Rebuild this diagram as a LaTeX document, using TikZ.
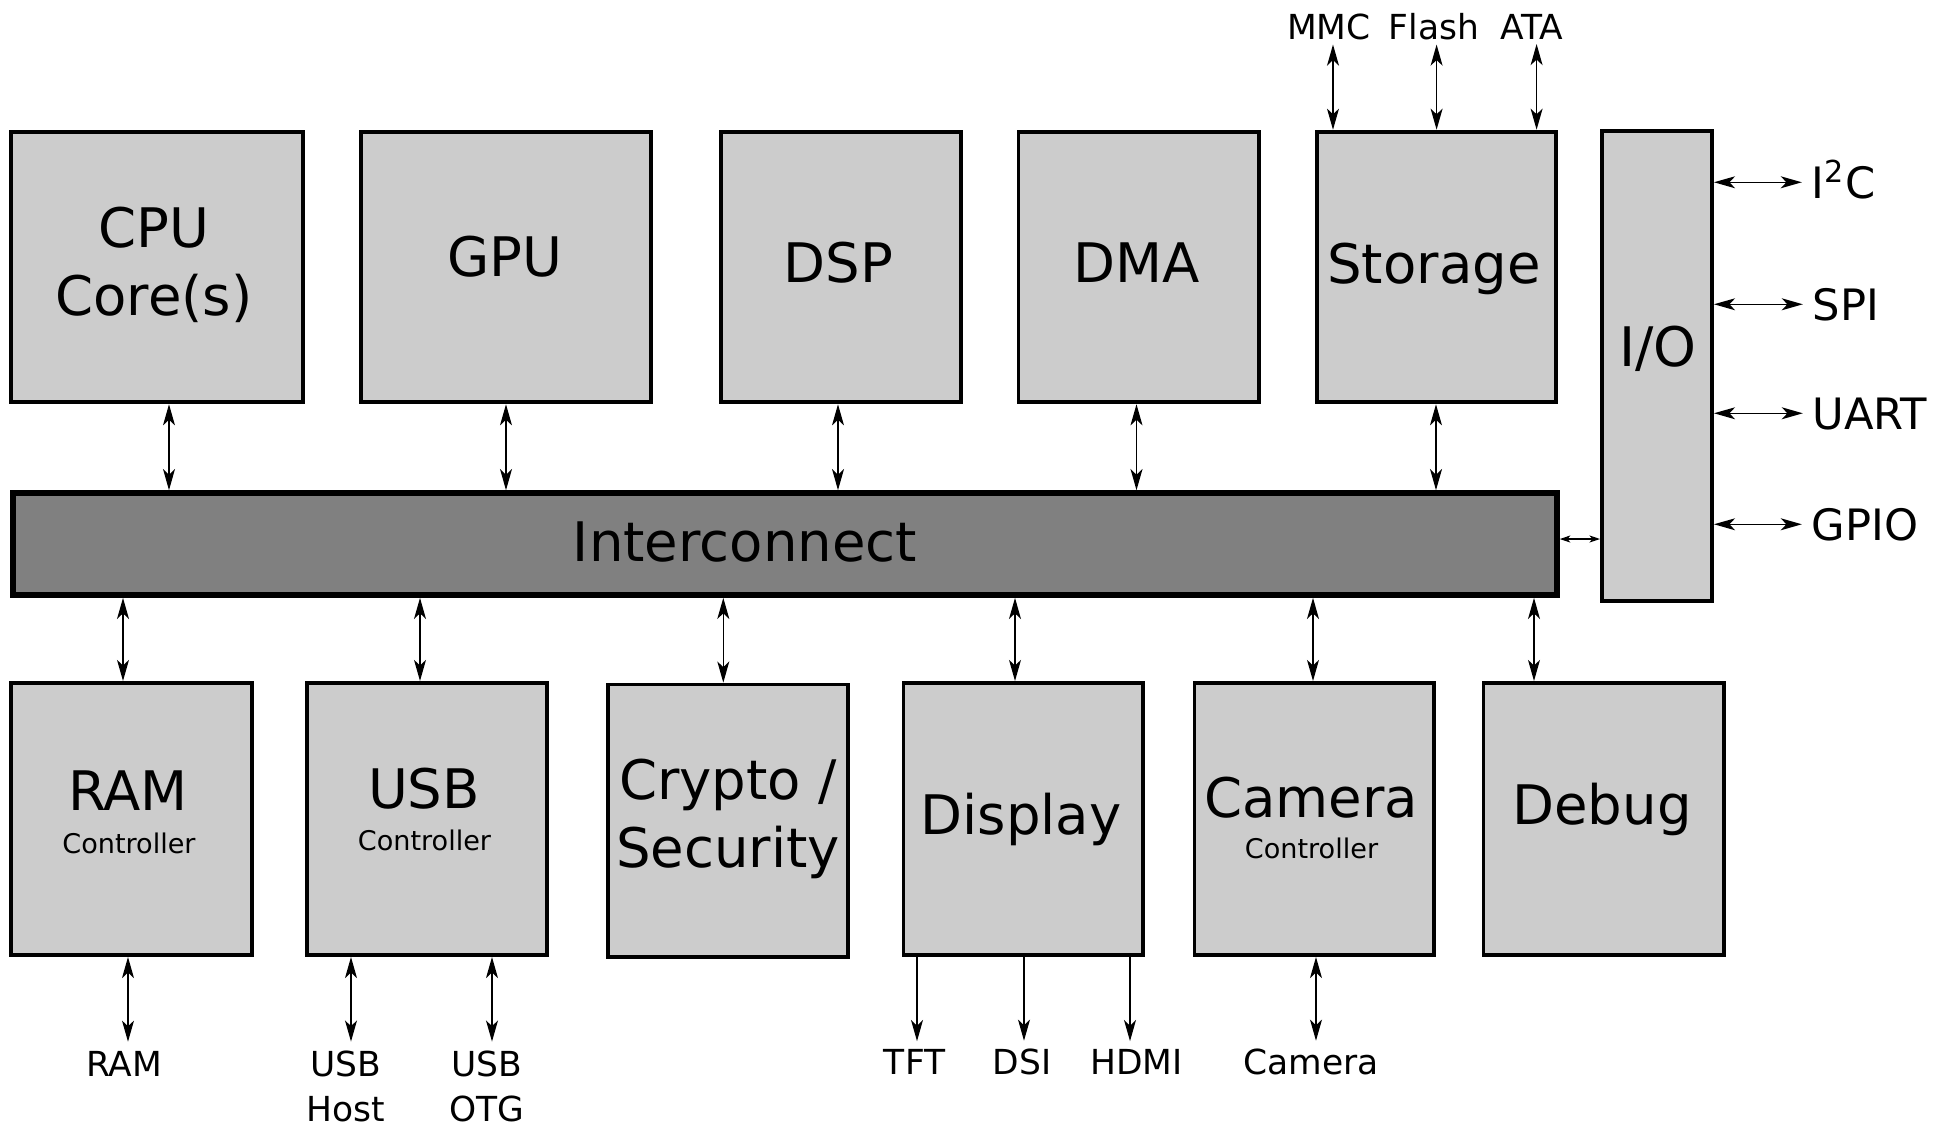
\documentclass[tikz,border=0pt]{standalone}
\usepackage{fontspec}
\setmainfont{DejaVu Sans}
\usetikzlibrary{arrows.meta}

\definecolor{blockfill}{HTML}{CCCCCC}
\definecolor{busfill}{HTML}{808080}

\tikzset{
  block/.style={draw, fill=blockfill, line width=1.1pt, inner sep=0pt},
  core/.style={block, minimum width=#1, minimum height=2.705cm},
  periph/.style={block, minimum width=#1, minimum height=2.72cm},
  bus/.style={draw, fill=busfill, line width=1.6pt, inner sep=0pt},
  title/.style={font=\fontsize{15.5}{19.35}\selectfont, inner sep=0pt, align=center},
  ctrl/.style={font=\fontsize{7.7}{9}\selectfont, inner sep=0pt, anchor=base},
  sig/.style={font=\fontsize{9.8}{12.8}\selectfont, inner sep=0pt, align=center},
  pin/.style={font=\fontsize{12.3}{14}\selectfont, inner sep=0pt, text height=8.95pt, text depth=0pt, anchor=base west},
  link/.style={line width=0.4pt, {Stealth[length=6pt, width=3.4pt, inset=1.6pt]}-{Stealth[length=6pt, width=3.4pt, inset=1.6pt]}},
  feed/.style={line width=0.4pt, -{Stealth[length=6pt, width=3.4pt, inset=1.6pt]}},
  shortlink/.style={line width=0.4pt, {Stealth[length=3pt, width=2pt, inset=0.8pt]}-{Stealth[length=3pt, width=2pt, inset=0.8pt]}}
}

\begin{document}
\begin{tikzpicture}[x=0.01cm, y=-0.01cm]
\useasboundingbox (0,0) rectangle (1950,1126);

\node[core=2.91cm] (cpu) at (157,267) {};
\node[core=2.90cm] (gpu) at (506,267) {};
\node[core=2.40cm] (dsp) at (841,267) {};
\node[core=2.40cm] (dma) at (1138.5,267) {};
\node[core=2.39cm] (storage) at (1436.5,267) {};
\node[block, minimum width=1.10cm, minimum height=4.70cm] (io) at (1657,366) {};
\node[bus, minimum width=15.43cm, minimum height=1.02cm] (ic) at (785,544) {};

\node[periph=2.41cm] (ram) at (131.3,819) {};
\node[periph=2.40cm] (usb) at (427,819) {};
\node[periph=2.40cm] (crypto) at (728,820.6) {};
\node[periph=2.39cm] (display) at (1023,819) {};
\node[periph=2.39cm] (camera) at (1314,819) {};
\node[periph=2.40cm] (debug) at (1603.5,819) {};

\node[title, anchor=north] (cputxt) at (154,206) {CPU\\Core(s)};
\node[title, anchor=base] (gputxt) at (505,276) {GPU};
\node[title, anchor=base] (dsptxt) at (838.6,282) {DSP};
\node[title, anchor=base] (dmatxt) at (1137,282) {DMA};
\node[title, anchor=base] (storagetxt) at (1434,283) {Storage};
\node[title, anchor=base] (iotxt) at (1658,366) {I/O};
\node[title, anchor=base] (ictxt) at (745,561) {Interconnect};
\node[title, anchor=base] (ramtxt) at (128,810.5) {RAM};
\node[ctrl] (ramctrl) at (129,853) {Controller};
\node[title, anchor=base] (usbtxt) at (424,808) {USB};
\node[ctrl] (usbctrl) at (424.5,850) {Controller};
\node[title, anchor=north] (cryptotxt) at (728,758) {Crypto /\\Security};
\node[title, anchor=base] (displaytxt) at (1021,834) {Display};
\node[title, anchor=base] (cameratxt) at (1311,817) {Camera};
\node[ctrl] (cameractrl) at (1311.5,858.5) {Controller};
\node[title, anchor=base] (debugtxt) at (1602,824) {Debug};

\node[sig, anchor=base] (mmc) at (1329,39.5) {MMC};
\node[sig, anchor=base] (flash) at (1434,39.5) {Flash};
\node[sig, anchor=base] (ata) at (1532,39.5) {ATA};

\node[pin] (i2c) at (1811,198) {I\textsuperscript{2}C};
\node[pin] (spi) at (1812,320) {SPI};
\node[pin] (uart) at (1812,429) {UART};
\node[pin] (gpio) at (1811,540) {GPIO};

\node[sig, anchor=base] (ramsig) at (124,1076) {RAM};
\node[sig, anchor=north] (hostsig) at (346,1050) {USB\\Host};
\node[sig, anchor=north] (otgsig) at (487,1050) {USB\\OTG};
\node[sig, anchor=base] (tft) at (914.6,1074) {TFT};
\node[sig, anchor=base] (dsi) at (1022,1074) {DSI};
\node[sig, anchor=base] (hdmi) at (1136.5,1074) {HDMI};
\node[sig, anchor=base] (camsig) at (1311,1074) {Camera};

\draw[link] (cpu.south -| 169,0) -- (ic.north -| 169,0);
\draw[link] (gpu.south) -- (gpu.south |- ic.north);
\draw[link] (dsp.south -| 838,0) -- (ic.north -| 838,0);
\draw[link] (dma.south -| 1136.5,0) -- (ic.north -| 1136.5,0);
\draw[link] (storage.south -| 1436,0) -- (ic.north -| 1436,0);

\draw[link] (ic.south -| 123,0) -- (ram.north -| 123,0);
\draw[link] (ic.south -| 420,0) -- (usb.north -| 420,0);
\draw[link] (ic.south -| 723.3,0) -- (crypto.north -| 723.3,0);
\draw[link] (ic.south -| 1015,0) -- (display.north -| 1015,0);
\draw[link] (ic.south -| 1313,0) -- (camera.north -| 1313,0);
\draw[link] (ic.south -| 1534,0) -- (debug.north -| 1534,0);

\draw[shortlink] (ic.east |- 0,539) -- (io.west |- 0,539);

\draw[link, shorten >=1.1pt] (storage.north -| 1333,0) -- (mmc.south -| 1333,0);
\draw[link, shorten >=1.1pt] (storage.north -| 1436.6,0) -- (flash.south -| 1436.6,0);
\draw[link, shorten >=1.1pt] (storage.north -| 1536.6,0) -- (ata.south -| 1536.6,0);

\draw[link, shorten >=2.6pt] (io.east |- i2c.west) -- (i2c.west);
\draw[link, shorten >=2.6pt] (io.east |- spi.west) -- (spi.west);
\draw[link, shorten >=2.6pt] (io.east |- uart.west) -- (uart.west);
\draw[link, shorten >=2.6pt] (io.east |- gpio.west) -- (gpio.west);

\draw[link, shorten >=2.4pt] (ram.south -| 128,0) -- (ramsig.north -| 128,0);
\draw[link, shorten >=2.4pt] (usb.south -| 351,0) -- (hostsig.north -| 351,0);
\draw[link, shorten >=2.4pt] (usb.south -| 492,0) -- (otgsig.north -| 492,0);
\draw[feed, shorten >=2.0pt] (display.south -| 917,0) -- (tft.north -| 917,0);
\draw[feed, shorten >=2.0pt] (display.south -| 1024,0) -- (dsi.north -| 1024,0);
\draw[feed, shorten >=2.0pt] (display.south -| 1130,0) -- (hdmi.north -| 1130,0);
\draw[link, shorten >=2.0pt] (camera.south -| 1316,0) -- (camsig.north -| 1316,0);
\end{tikzpicture}
\end{document}
